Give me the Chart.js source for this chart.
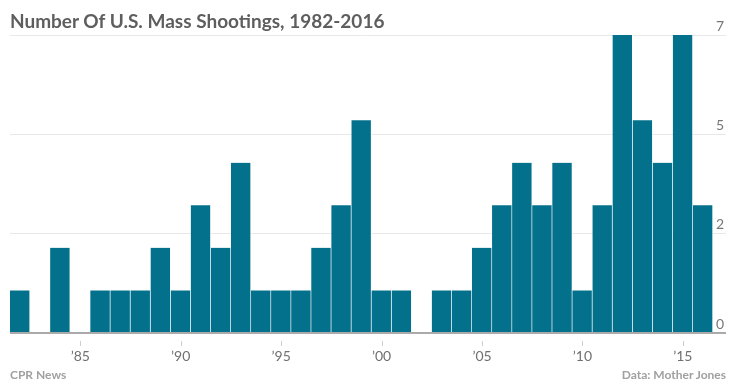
<!DOCTYPE html>
<html>
<head>
<meta charset="utf-8">
<script src="https://cdn.jsdelivr.net/npm/chart.js@4/dist/chart.umd.min.js"></script>
<style>
  html, body { margin: 0; padding: 0; background: #fff; }
  #wrap { position: relative; width: 736px; height: 383px; }
  #myChart { position: absolute; left: 0; top: 0; }
  .txt { position: absolute; font-family: Lato, sans-serif; white-space: nowrap; }
  #title { left: 10px; top: 9px; font-size: 19px; font-weight: bold; color: #5e5e5e; }
  #src_left { left: 10px; top: 367px; font-size: 12px; font-weight: bold; color: #a0a0a0; }
  #src_right { right: 10px; top: 367px; font-size: 12px; font-weight: bold; color: #a0a0a0; }
</style>
</head>
<body>
<div id="wrap">
  <canvas id="myChart" width="736" height="383"></canvas>
  <div class="txt" id="title">Number Of U.S. Mass Shootings, 1982-2016</div>
  <div class="txt" id="src_left">CPR News</div>
  <div class="txt" id="src_right">Data: Mother Jones</div>
</div>
<script>
years = [1982, 1983, 1984, 1985, 1986, 1987, 1988, 1989, 1990, 1991,
         1992, 1993, 1994, 1995, 1996, 1997, 1998, 1999, 2000, 2001,
         2002, 2003, 2004, 2005, 2006, 2007, 2008, 2009, 2010, 2011,
         2012, 2013, 2014, 2015, 2016];
shootings = [1, 0, 2, 0, 1, 1, 1, 2, 1, 3,
             2, 4, 1, 1, 1, 2, 3, 5, 1, 1,
             0, 1, 1, 2, 3, 4, 3, 4, 1, 3,
             7, 5, 4, 7, 3];
y_max = 7;
y_step = 7 / 3;

function year_label(yr) {
    if (yr % 5 != 0) return '';
    return '\u2019' + String(yr).slice(2);
}

// small gray tick marks under the labelled years, a bit below the baseline
const year_ticks = {
    id: 'year_ticks',
    afterDraw(chart) {
        const c = chart.ctx;
        const xs = chart.scales.x;
        const base = chart.chartArea.bottom;
        c.save();
        c.strokeStyle = '#cfcfcf';
        c.lineWidth = 1;
        years.forEach((yr, i) => {
            if (yr % 5 != 0) return;
            const px = Math.round(xs.getPixelForTick(i)) + 0.5;
            c.beginPath();
            c.moveTo(px, base + 8);
            c.lineTo(px, base + 13);
            c.stroke();
        });
        c.restore();
    }
};

const ctx = document.getElementById('myChart');
const data = {
    labels: years,
    datasets: [{
        label: null,
        data: shootings,
        backgroundColor: '#03718b',
        borderColor: 'rgba(255,255,255,0.85)',
        borderWidth: { left: 0, right: 1, top: 0, bottom: 0 },
        borderSkipped: false,
        barPercentage: 1,
        categoryPercentage: 1
    }]
};

const config = {
    type: 'bar',
    data: data,
    plugins: [year_ticks],
    options: {
        responsive: false,
        animation: false,
        layout: { padding: { left: 10, top: 35, right: 0, bottom: 0 } },
        scales: {
            x: {
                border: { display: false },
                grid: {
                    display: false,
                    drawTicks: false
                },
                ticks: {
                    autoSkip: false,
                    maxRotation: 0,
                    padding: 15,
                    color: '#707070',
                    font: { family: 'Lato', size: 14 },
                    callback: function (v, i) { return year_label(years[i]); }
                },
                afterFit: (s) => { s.height = 50; }
            },
            y: {
                position: 'right',
                min: 0,
                max: y_max,
                border: { display: false },
                grid: {
                    color: (c) => (c.tick && c.tick.value == 0 ? '#aaaaaa' : '#e8e8e8'),
                    lineWidth: (c) => (c.tick && c.tick.value == 0 ? 2 : 1),
                    tickLength: 13
                },
                ticks: {
                    stepSize: y_step,
                    padding: -10,
                    labelOffset: -9,
                    color: '#777777',
                    font: { family: 'Lato', size: 14 },
                    callback: (v) => Math.round(v)
                },
                afterFit: (s) => { s.width = 23; }
            }
        },
        plugins: {
            legend: { display: false },
            tooltip: { enabled: false }
        }
    }
};

chart = new Chart(ctx, config);
</script>
</body>
</html>
